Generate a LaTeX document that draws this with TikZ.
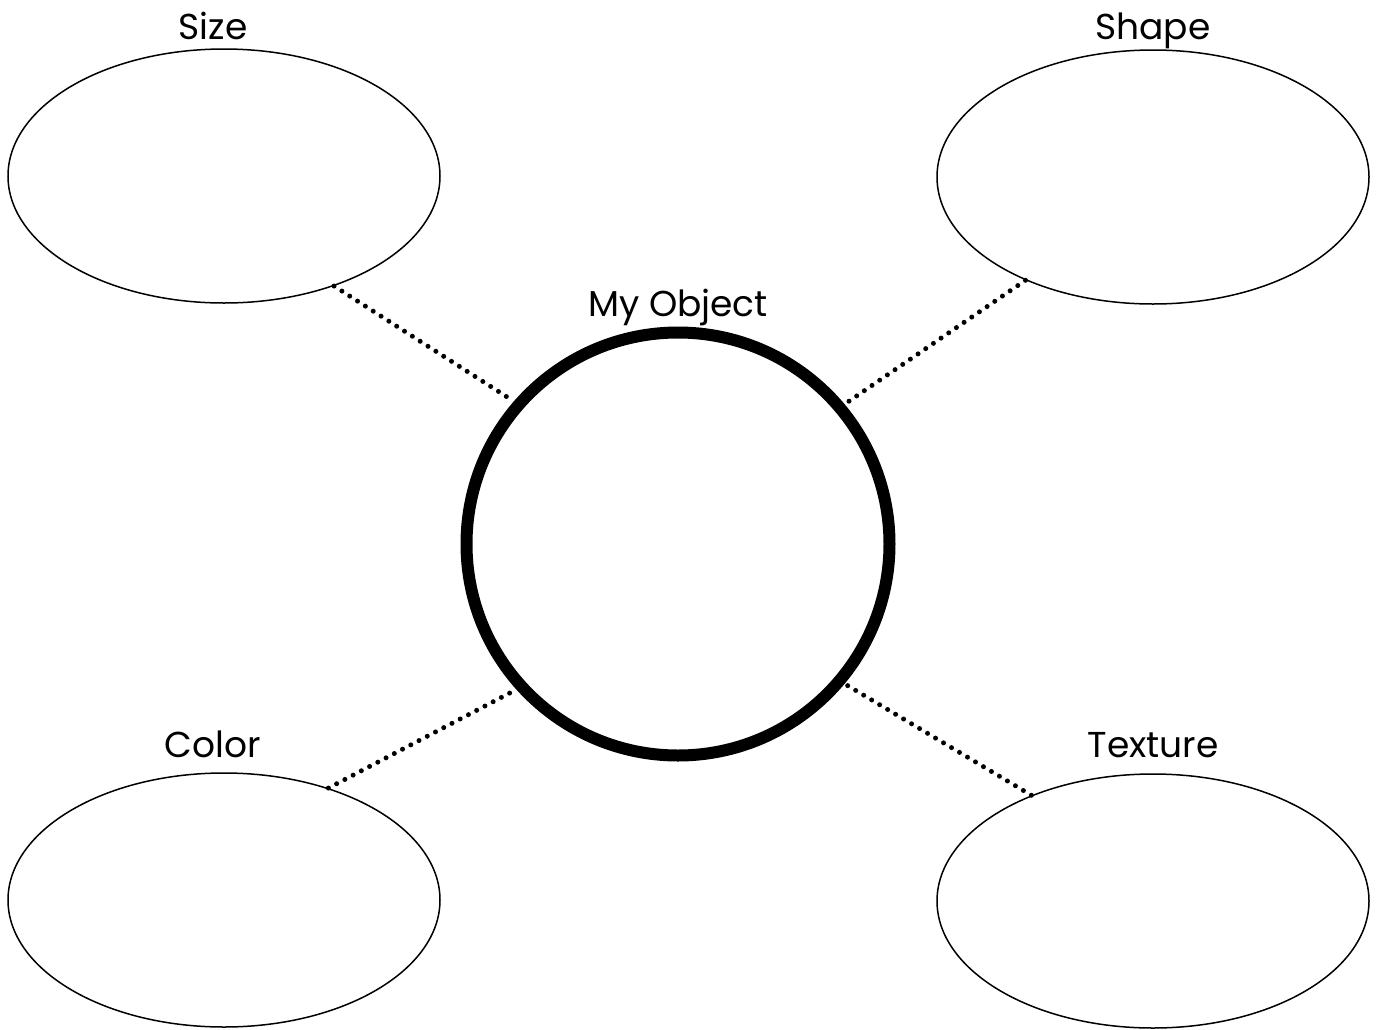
\documentclass[tikz,border=0pt]{standalone}
\usepackage{fontspec}
\setmainfont{Poppins}
\usetikzlibrary{shapes.geometric}
\begin{document}
\begin{tikzpicture}[x=1pt,y=-1pt,
  bubble/.style={ellipse,draw,line width=1.5pt,minimum width=432pt,minimum height=254pt,inner sep=0pt},
  core/.style={circle,draw,line width=12pt,minimum size=423pt,inner sep=0pt},
  lbl/.style={font=\fontsize{36}{40}\selectfont,anchor=base,inner sep=0pt},
  link/.style={line width=5pt,line cap=round,dash pattern=on 0pt off 9.3pt}]
\useasboundingbox (0,0) rectangle (1377,1029);
\node[bubble] (size) at (224,176) {};
\node[bubble] (shape) at (1153,177) {};
\node[bubble] (color) at (224,900) {};
\node[bubble] (texture) at (1153,901) {};
\node[core] (obj) at (678,544) {};
\node[lbl] (tsize) at (213,39) {Size};
\node[lbl] (tshape) at (1153,39) {Shape};
\node[lbl] (tobj) at (678,316) {My Object};
\node[lbl] (tcolor) at (213,757) {Color};
\node[lbl] (ttexture) at (1153,757) {Texture};
\draw[link] (size.-45.8) -- (obj.139);
\draw[link] (shape.-141) -- (obj.40);
\draw[link] (color.47) -- (obj.-138.2);
\draw[link] (texture.139.7) -- (obj.-40.6);
\end{tikzpicture}
\end{document}
